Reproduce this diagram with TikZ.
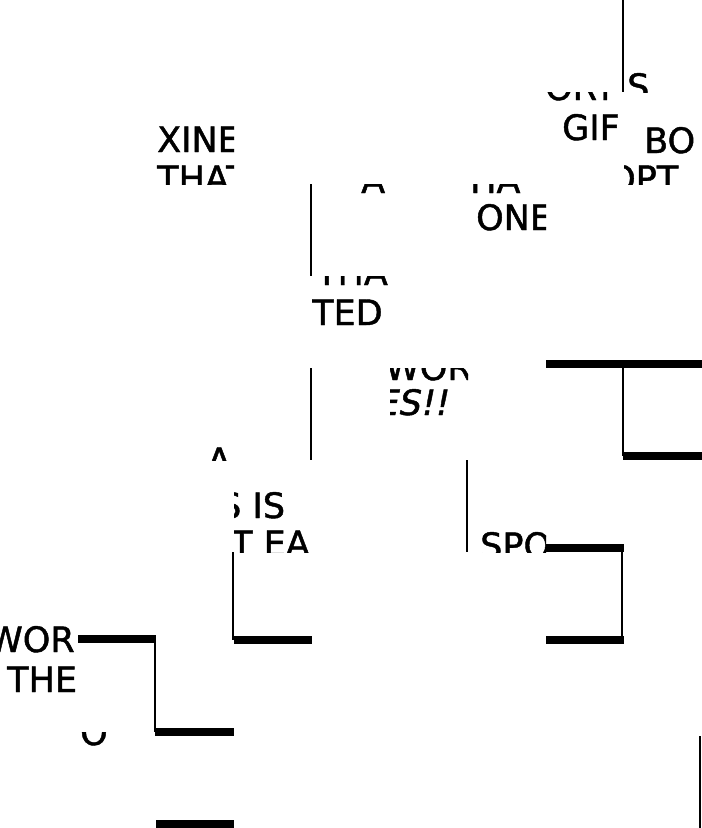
\documentclass[tikz,border=0pt]{standalone}
\usepackage{fontspec}
\setmainfont{DejaVu Sans}
\newfontfamily\comicletters[FakeBold=1.3]{DejaVu Sans}
\newfontfamily\comicslant[FakeBold=1.3,FakeSlant=0.2]{DejaVu Sans}
\tikzset{
  thinrule/.style={line width=2.6pt},
  thickbar/.style={line width=8pt},
  lettering/.style={inner sep=0pt, anchor=base west, font=\comicletters\fontsize{35}{35}\selectfont},
  slanted/.style={lettering, font=\comicslant\fontsize{35}{35}\selectfont}
}
\begin{document}
\begin{tikzpicture}[x=1pt,y=-1pt]
\useasboundingbox (0,0) rectangle (702,828);
\fill[white] (0,0) rectangle (702,828);

% thin rules
\draw[thinrule] (623,0) -- (623,92);
\draw[thinrule] (311,184) -- (311,276);
\draw[thinrule] (311,368) -- (311,460);
\draw[thinrule] (467,460) -- (467,552);
\draw[thinrule] (233,552) -- (233,640);
\draw[thinrule] (623,364) -- (623,456);
\draw[thinrule] (622,548) -- (622,640);
\draw[thinrule] (155,639) -- (155,732);
\draw[thinrule] (700,736) -- (700,828);

% thick bars
\draw[thickbar] (546,364) -- (702,364);
\draw[thickbar] (623,456) -- (702,456);
\draw[thickbar] (546,548) -- (624,548);
\draw[thickbar] (546,640) -- (624,640);
\draw[thickbar] (234,640) -- (312,640);
\draw[thickbar] (78,639) -- (156,639);
\draw[thickbar] (155,732) -- (234,732);
\draw[thickbar] (156,824) -- (234,824);

% lettering fragments
\begin{scope}
\clip (156,92) rectangle (234,184);
\node[lettering] (t1) at (157,152) {XINE};
\node[lettering] (t2) at (157,191) {THAT};
\end{scope}

\begin{scope}
\clip (546,92) rectangle (624,184);
\node[lettering] (t3) at (545,100) {ORT};
\node[lettering] (t4) at (562,140) {GIF};
\end{scope}

\begin{scope}
\clip (624,0) rectangle (702,92);
\node[lettering] (t5) at (627,99) {S};
\end{scope}

\begin{scope}
\clip (624,92) rectangle (702,184);
\node[lettering] (t6) at (644,153) {BO};
\node[lettering] (t7) at (608,191) {OPT};
\end{scope}

\begin{scope}
\clip (468,184) rectangle (546,276);
\node[lettering] (t8) at (470,193) {HA};
\node[lettering] (t9) at (476,230) {ONE};
\end{scope}

\begin{scope}
\clip (312,184) rectangle (390,276);
\node[lettering] (t10) at (361,193) {A};
\end{scope}

\begin{scope}
\clip (312,276) rectangle (390,368);
\node[lettering] (t11) at (316,285) {THA};
\node[lettering] (t12) at (312,325) {TED};
\end{scope}

\begin{scope}
\clip (390,368) rectangle (468,460);
\node[lettering] (t13) at (385,380) {WOR};
\node[slanted] (t14) at (375,415) {ES!!};
\end{scope}

\begin{scope}
\clip (156,368) rectangle (234,460);
\node[lettering] (t15) at (207,473) {A};
\end{scope}

\begin{scope}
\clip (234,460) rectangle (312,552);
\node[lettering] (t16) at (219,518) {S IS};
\node[lettering] (t17) at (231,556) {T EA};
\end{scope}

\begin{scope}
\clip (468,460) rectangle (546,552);
\node[lettering] (t18) at (480,558) {SPO};
\end{scope}

\begin{scope}
\clip (0,600) rectangle (78,720);
\node[lettering] (t19) at (-12,652) {WOR};
\node[lettering] (t20) at (7,692) {THE};
\end{scope}

\begin{scope}
\clip (78,732) rectangle (156,828);
\node[lettering] (t21) at (80,745) {O};
\end{scope}
\end{tikzpicture}
\end{document}
